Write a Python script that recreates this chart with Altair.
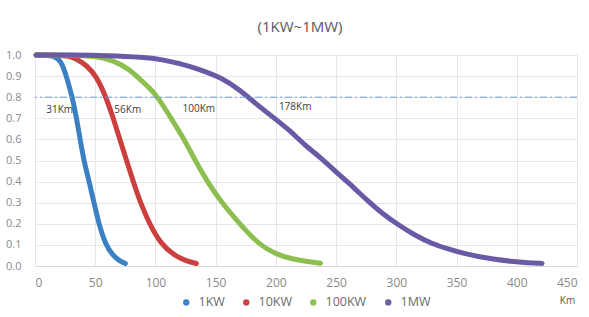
import altair as alt
import pandas as pd

title_text = ["(1KW~1MW)"]
series = ["1KW", "10KW", "100KW", "1MW"]
colors = ["#3a80c3", "#cc3f3f", "#8cbf4f", "#6a5aa6"]

km_1kw = [1, 10, 15, 20, 23, 26, 31, 34.5, 37.5, 40.5, 45, 49, 53, 58.7, 64.7, 70, 75]
p_1kw = [1.0, 1.0, 0.995, 0.98, 0.95, 0.9, 0.8, 0.7, 0.6, 0.5, 0.4, 0.3, 0.2, 0.1, 0.05, 0.025, 0.012]

km_10kw = [1, 20, 28, 35, 43, 51, 59, 65, 70.5, 76, 81.5, 87.5, 95, 105, 116, 125, 134]
p_10kw = [1.0, 1.0, 0.995, 0.98, 0.95, 0.9, 0.8, 0.7, 0.6, 0.5, 0.4, 0.3, 0.2, 0.1, 0.05, 0.025, 0.012]

km_100kw = [1, 30, 50, 65, 79, 87, 95, 102, 113, 124, 133, 143, 155, 170, 186, 202, 220, 237]
p_100kw = [1.0, 1.0, 0.995, 0.975, 0.93, 0.885, 0.845, 0.8, 0.7, 0.6, 0.5, 0.4, 0.3, 0.2, 0.1, 0.05, 0.025, 0.013]

km_1mw = [1, 30, 60, 90, 106, 120, 134, 156, 170, 183, 197, 211, 224, 238, 252, 265, 275, 288,
          302, 315, 329, 343, 357, 368, 380, 395, 410, 421]
p_1mw = [1.0, 1.0, 0.998, 0.99, 0.978, 0.96, 0.937, 0.89, 0.834, 0.771, 0.708, 0.645, 0.573, 0.51,
         0.435, 0.37, 0.315, 0.25, 0.194, 0.147, 0.107, 0.08, 0.058, 0.045, 0.033, 0.022, 0.015, 0.012]

threshold = [0.8]
ann_text = ["31Km", "56Km", "100Km", "178Km"]
ann_x = [20.5, 77, 136, 216]
ann_y = [0.74, 0.74, 0.745, 0.755]

x_ticks = [0, 50, 100, 150, 200, 250, 300, 350, 400, 450]
y_ticks = [0.0, 0.1, 0.2, 0.3, 0.4, 0.5, 0.6, 0.7, 0.8, 0.9, 1.0]

rows = []
for name, xs, ys in [("1KW", km_1kw, p_1kw), ("10KW", km_10kw, p_10kw),
                     ("100KW", km_100kw, p_100kw), ("1MW", km_1mw, p_1mw)]:
    for i, (a, b) in enumerate(zip(xs, ys)):
        rows.append({"series": name, "km": a, "p": b, "order": i})
df = pd.DataFrame(rows)
ann_df = pd.DataFrame({"text": ann_text, "km": ann_x, "p": ann_y})
thr_df = pd.DataFrame({"p": threshold})
title_df = pd.DataFrame({"t": title_text})

FONT = "Open Sans"

xscale = alt.Scale(domain=[0, 450], nice=False)
yscale = alt.Scale(domain=[0, 1], nice=False)

xaxis = alt.Axis(values=x_ticks, title="Km", titleX=532, titleY=34, titleAlign="center",
                 titleBaseline="middle", titleFontSize=10, titleFontWeight="normal",
                 titleColor="#595959", titleFont=FONT,
                 labelFont=FONT, labelFontSize=12, labelColor="#8a8a8a", labelPadding=11,
                 ticks=False, domainColor="#d9d9d9", gridColor="#e6e6e6", labelOverlap=False)
yaxis = alt.Axis(values=y_ticks, format=".1f", title=None, labelFont=FONT, labelFontSize=11,
                 labelColor="#8a8a8a", labelPadding=14, ticks=False, domain=False,
                 gridColor="#e6e6e6", labelOverlap=False)

legend = alt.Legend(title=None, orient="none", direction="horizontal", legendX=145, legendY=241,
                    symbolType="circle", symbolSize=8, symbolStrokeWidth=3.5,
                    labelFont=FONT, labelFontSize=12.5,
                    labelColor="#6a6a6a", columnPadding=12, labelOffset=6)

X = alt.X("km:Q", scale=xscale, axis=xaxis)
Y = alt.Y("p:Q", scale=yscale, axis=yaxis)

lines = alt.Chart(df).mark_line(strokeWidth=5, strokeCap="round", interpolate="basis").encode(
    x=X,
    y=Y,
    color=alt.Color("series:N", scale=alt.Scale(domain=series, range=colors), legend=legend),
    order="order:Q",
    detail="series:N",
)

thr = alt.Chart(thr_df).mark_rule(color="#6a9fd4", strokeWidth=1, strokeDash=[7, 3, 2, 3]).encode(
    y=Y,
)

ann = alt.Chart(ann_df).mark_text(font=FONT, fontSize=10, color="#404040", baseline="middle",
                                  align="center").encode(
    x=X,
    y=Y,
    text="text:N",
)

title = alt.Chart(title_df).mark_text(font=FONT, fontSize=15, color="#595959", baseline="middle",
                                      align="center").encode(
    x=alt.value(265),
    y=alt.value(-28),
    text="t:N",
)

chart = alt.layer(lines, thr, ann, title).properties(
    width=542, height=211,
    autosize=alt.AutoSizeParams(type="none"),
    padding={"left": 35, "top": 55, "right": 12, "bottom": 51},
).configure(
    background="white",
    view=alt.ViewConfig(stroke=None),
)

chart.save("out.html", embed_options={"renderer": "svg", "actions": False})
